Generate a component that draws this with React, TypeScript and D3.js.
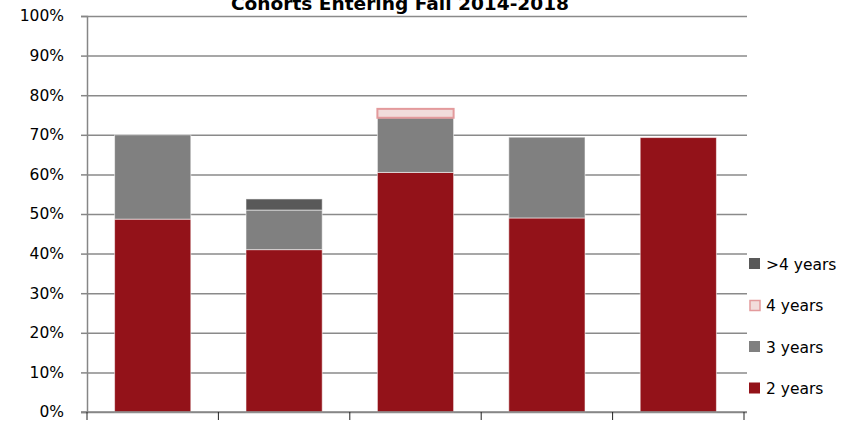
import * as d3 from 'd3';
import React, { useEffect, useRef } from 'react';

// Cohorts entering fall 2014-2018, share completing within N years (%)
const cohorts = ['Fall 2014', 'Fall 2015', 'Fall 2016', 'Fall 2017', 'Fall 2018'];
const twoYears = [48.7, 41.0, 60.5, 49.0, 69.3];
const threeYears = [21.3, 10.0, 13.8, 20.4, 0];
const fourYears = [0, 0, 2.5, 0, 0];
const overFour = [0, 2.8, 0, 0, 0];

const seriesKeys = ['2 years', '3 years', '4 years', '>4 years'];
const yTicks = [0, 10, 20, 30, 40, 50, 60, 70, 80, 90, 100];

const colors: Record<string, string> = {
  '2 years': '#931219',
  '3 years': '#808080',
  '4 years': '#f2dcdb',
  '>4 years': '#595959',
};

export default function App() {
  const svgRef = useRef<SVGSVGElement | null>(null);

  const width = 858;
  const height = 422;
  const marginTop = 16;
  const marginRight = 114;
  const marginBottom = 10;
  const marginLeft = 87;

  useEffect(() => {
    const rows = cohorts.map((c, i) => ({
      cohort: c,
      '2 years': twoYears[i],
      '3 years': threeYears[i],
      '4 years': fourYears[i],
      '>4 years': overFour[i],
    }));

    const stacked = d3.stack<any>().keys(seriesKeys)(rows);

    const x = d3.scaleBand()
      .domain(cohorts)
      .range([marginLeft, width - marginRight])
      .paddingInner(0.42)
      .paddingOuter(0.21);

    const y = d3.scaleLinear()
      .domain([0, 100])
      .range([height - marginBottom, marginTop]);

    const svg = d3.select(svgRef.current)
      .attr('width', width)
      .attr('height', height)
      .attr('viewBox', `0 0 ${width} ${height}`);

    svg.selectAll('*').remove();

    const font = '"DejaVu Sans", sans-serif';

    // gridlines + y axis
    svg.append('g')
      .attr('transform', `translate(${marginLeft},0)`)
      .call(d3.axisLeft(y).tickValues(yTicks).tickSize(6).tickFormat(d => `${d}%`))
      .call(g => g.select('.domain').attr('stroke', '#868686').attr('stroke-width', 1.5))
      .call(g => g.selectAll('.tick line').attr('stroke', '#868686').attr('stroke-width', 1.5))
      .call(g => g.selectAll('.tick line').clone()
        .attr('x2', width - marginRight - marginLeft + 3)
        .attr('stroke', '#8a8a8a')
        .attr('stroke-width', 1.5))
      .call(g => g.selectAll('.tick text')
        .attr('x', -23)
        .attr('fill', '#000')
        .attr('font-family', font)
        .attr('font-size', 15.5));

    // bars
    svg.append('g')
      .selectAll('g')
      .data(stacked)
      .join('g')
      .each(function (s) {
        const key = s.key;
        d3.select(this)
          .selectAll('rect')
          .data(s.filter(d => d[1] - d[0] > 0))
          .join('rect')
          .attr('x', d => (x(d.data.cohort) ?? 0) + (key === '4 years' ? 0 : 0))
          .attr('y', d => y(d[1]) + (key === '4 years' ? 1 : 0))
          .attr('width', x.bandwidth())
          .attr('height', d => y(d[0]) - y(d[1]) - (key === '4 years' ? 1 : 0))
          .attr('fill', colors[key])
          .attr('stroke', key === '4 years' ? '#e39a9c' : 'rgba(255,255,255,0.55)')
          .attr('stroke-width', key === '4 years' ? 2 : 1);
      });

    // x axis line and category boundary ticks
    const step = x.step();
    const bounds = d3.range(cohorts.length + 1).map(i => marginLeft + i * step);
    svg.append('line')
      .attr('x1', marginLeft - 6)
      .attr('x2', width - marginRight + 3)
      .attr('y1', y(0))
      .attr('y2', y(0))
      .attr('stroke', '#868686')
      .attr('stroke-width', 1.5);
    svg.append('g')
      .selectAll('line')
      .data(bounds)
      .join('line')
      .attr('x1', d => d)
      .attr('x2', d => d)
      .attr('y1', y(0))
      .attr('y2', y(0) + 8)
      .attr('stroke', '#222')
      .attr('stroke-width', 1);

    // title
    svg.append('text')
      .attr('x', 400)
      .attr('y', 10)
      .attr('text-anchor', 'middle')
      .attr('font-family', font)
      .attr('font-weight', 'bold')
      .attr('font-size', 18)
      .attr('textLength', 338)
      .attr('lengthAdjust', 'spacingAndGlyphs')
      .text('Cohorts Entering Fall 2014-2018');

    // legend
    const legendKeys = ['>4 years', '4 years', '3 years', '2 years'];
    const legend = svg.append('g')
      .selectAll('g')
      .data(legendKeys)
      .join('g')
      .attr('transform', (_, i) => `translate(749,${264 + i * 41.5})`);
    legend.append('rect')
      .attr('x', d => (d === '4 years' ? 1 : 0))
      .attr('y', d => (d === '4 years' ? -5 : -6))
      .attr('width', d => (d === '4 years' ? 10 : 11))
      .attr('height', d => (d === '4 years' ? 10 : 11))
      .attr('fill', d => colors[d])
      .attr('stroke', d => (d === '4 years' ? '#e39a9c' : 'none'))
      .attr('stroke-width', 1.5);
    legend.append('text')
      .attr('x', 17)
      .attr('y', 5.5)
      .attr('font-family', font)
      .attr('font-size', 15.5)
      .attr('fill', '#000')
      .text(d => d);
  }, []);

  return (
    <svg ref={svgRef} style={{ position: 'absolute', left: 0, top: 0, background: '#fff' }}></svg>
  );
}
